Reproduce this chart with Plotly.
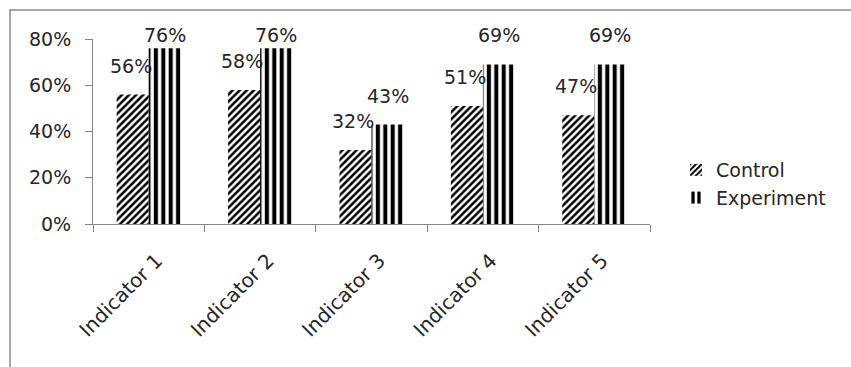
import plotly.graph_objects as go

categories = ["Indicator 1", "Indicator 2", "Indicator 3", "Indicator 4", "Indicator 5"]
control = [0.56, 0.58, 0.32, 0.51, 0.47]
experiment = [0.76, 0.76, 0.43, 0.69, 0.69]
y_ticks = [0, 0.2, 0.4, 0.6, 0.8]

W, H = 851, 367
ML, MR, MT, MB = 93, 201, 39, 143
plot_w = W - ML - MR
plot_h = H - MT - MB
y_max = 0.8
bargap = 0.425

FONT = "DejaVu Sans"
TXT = "#262626"
AXIS = "#868686"

fig = go.Figure()
fig.add_trace(go.Bar(
    name="Control", x=categories, y=control,
    marker=dict(color="white", line=dict(width=0),
                pattern=dict(shape="/", size=5, solidity=0.5,
                             fgcolor="black", bgcolor="white", fillmode="replace")),
))
fig.add_trace(go.Bar(
    name="Experiment", x=categories, y=experiment,
    marker=dict(color="white", line=dict(width=0),
                pattern=dict(shape="|", size=7.4, solidity=0.55,
                             fgcolor="black", bgcolor="white", fillmode="replace")),
))

# value labels centred above each bar, kept inside the frame near the top
cat_px = plot_w / len(categories)
bar_px = cat_px * (1 - bargap) / 2
px_per_unit = plot_h / y_max
annotations = []
for vals, side in ((control, -1), (experiment, 1)):
    for c, v in zip(categories, vals):
        shift = min(29, (y_max - v) * px_per_unit + 4)
        annotations.append(dict(
            x=c, y=v, xref="x", yref="y", text=f"{round(v * 100)}%",
            showarrow=False, xshift=side * bar_px / 2 - (2 if side < 0 else 0),
            yshift=shift, yanchor="middle", xanchor="center",
            font=dict(family=FONT, size=19, color=TXT),
        ))

# outer chart frame
fx0 = (10 - ML) / plot_w
fy1 = 1 + (MT - 10) / plot_h
shapes = [dict(type="rect", xref="paper", yref="paper",
               x0=fx0, x1=1.6, y0=-1.2, y1=fy1,
               line=dict(color="#8c8c8c", width=1.5), fillcolor="rgba(0,0,0,0)",
               layer="below")]

fig.update_layout(
    width=W, height=H,
    margin=dict(l=ML, r=MR, t=MT, b=MB, autoexpand=False),
    paper_bgcolor="white", plot_bgcolor="white",
    barmode="group", bargap=bargap, bargroupgap=0,
    font=dict(family=FONT, size=19, color=TXT),
    showlegend=True,
    legend=dict(x=(676 - ML) / plot_w, y=(H - MB - 184) / plot_h,
                xanchor="left", yanchor="middle",
                font=dict(family=FONT, size=19, color=TXT),
                itemwidth=30, tracegroupgap=0, bgcolor="rgba(0,0,0,0)"),
    annotations=annotations,
    shapes=shapes,
)
fig.update_xaxes(
    type="category", showline=True, linecolor=AXIS, linewidth=1,
    ticks="outside", tickson="boundaries", ticklen=7, tickcolor=AXIS,
    tickangle=-45, showgrid=False, zeroline=False,
    ticklabelstandoff=16, ticklabelshift=8,
    tickfont=dict(family=FONT, size=20, color=TXT),
)
fig.update_yaxes(
    range=[0, y_max], tickvals=y_ticks, tickformat=".0%",
    showline=True, linecolor=AXIS, linewidth=1,
    ticks="outside", ticklen=7, tickcolor=AXIS, ticklabelstandoff=10,
    showgrid=False, zeroline=False,
    tickfont=dict(family=FONT, size=19, color=TXT),
)

fig.write_html("out.html")
